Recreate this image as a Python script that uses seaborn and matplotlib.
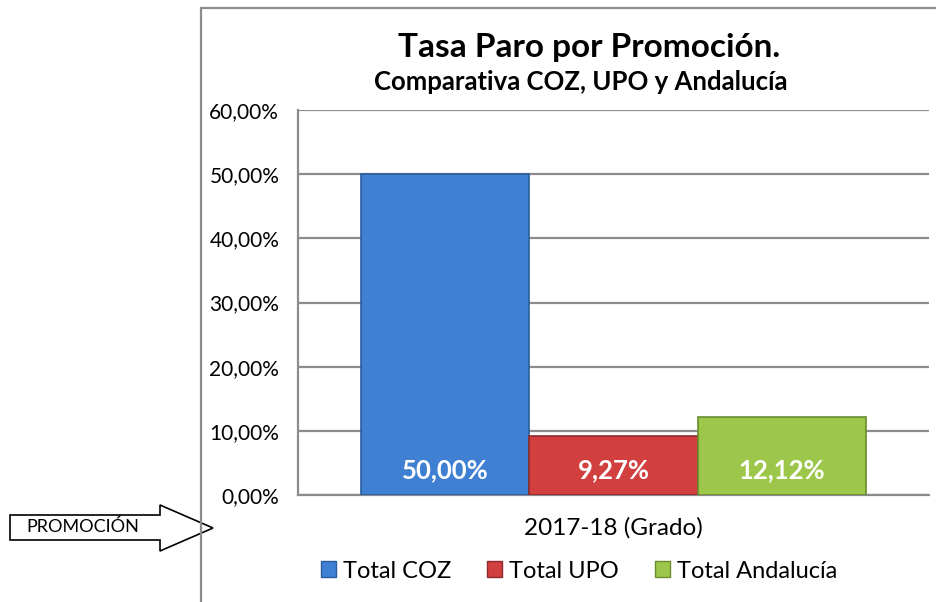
import pandas as pd
import matplotlib
matplotlib.use("Agg")
import matplotlib.pyplot as plt
import seaborn as sns
from matplotlib.lines import Line2D
from matplotlib.patches import Polygon

# Datos
promocion = ["2017-18 (Grado)"]
series = ["Total COZ", "Total UPO", "Total Andalucía"]
tasa_paro = [50.00, 9.27, 12.12]
colores = ["#3F80D2", "#D23F3F", "#9DC74A"]
bordes = ["#2B5C9C", "#8F2B2B", "#6A8C2C"]
y_ticks = [0, 10, 20, 30, 40, 50, 60]


def pct(v):
    return f"{v:.2f}%".replace(".", ",")


df = pd.DataFrame({
    "promocion": promocion * len(series),
    "serie": series,
    "tasa": tasa_paro,
})

sns.set_style("white")
plt.rcParams["font.family"] = ["Lato", "DejaVu Sans"]
plt.rcParams["text.color"] = "black"
plt.rcParams["xtick.color"] = "black"
plt.rcParams["ytick.color"] = "black"

fig = plt.figure(figsize=(9.36, 6.02), dpi=100)
ax = fig.add_axes([298 / 936, 107 / 602, 631 / 936, 385 / 602])

sns.barplot(data=df, x="promocion", y="tasa", hue="serie",
            palette=colores, saturation=1, ax=ax, width=0.8, legend=False)

for patch, borde in zip(ax.patches, bordes):
    patch.set_edgecolor(borde)
    patch.set_linewidth(1.2)
    patch.set_zorder(3)

# Etiquetas dentro de las barras
for patch, v in zip(ax.patches, tasa_paro):
    cx = patch.get_x() + patch.get_width() / 2
    ax.text(cx, 3.9, pct(v), ha="center", va="center", color="white",
            fontsize=18.5, fontweight="bold", zorder=4)

ax.set_ylim(0, 60)
ax.set_xlim(-0.5, 0.5)
ax.set_yticks(y_ticks)
ax.set_yticklabels([pct(v) for v in y_ticks], fontsize=15)
ax.tick_params(axis="y", length=0, pad=13.5)
ax.tick_params(axis="x", length=0, labelsize=17.5, pad=16)
ax.set_xlabel("")
ax.set_ylabel("")
ax.yaxis.grid(True, color="#8C8C8C", linewidth=1.6, zorder=0)
ax.set_axisbelow(True)
for lado in ["top", "right"]:
    ax.spines[lado].set_visible(False)
for lado in ["left", "bottom"]:
    ax.spines[lado].set_color("#8C8C8C")
    ax.spines[lado].set_linewidth(1.6)

# Títulos
fig.text(589 / 936, 1 - 48 / 602, "Tasa Paro por Promoción.",
         ha="center", va="center", fontsize=24, fontweight="bold")
fig.text(581 / 936, 1 - 82 / 602, "Comparativa COZ, UPO y Andalucía",
         ha="center", va="center", fontsize=18.5, fontweight="bold")

# Leyenda
handles = [plt.Rectangle((0, 0), 1, 1, facecolor=c, edgecolor=b)
           for c, b in zip(colores, bordes)]
fig.legend(handles, series, loc="center", bbox_to_anchor=(579 / 936, 1 - 571 / 602),
           ncol=3, frameon=False, fontsize=17, handlelength=0.65,
           handleheight=0.65, handletextpad=0.3, columnspacing=1.5)

# Marco del gráfico
fig.add_artist(Line2D([201 / 936, 201 / 936], [0, 1 - 8 / 602],
                      color="#8C8C8C", linewidth=1.6))
fig.add_artist(Line2D([201 / 936, 1], [1 - 8 / 602, 1 - 8 / 602],
                      color="#8C8C8C", linewidth=1.6))

# Flecha "PROMOCIÓN"
flecha = [(10, 515), (160, 515), (160, 505), (213, 528), (160, 551),
          (160, 540), (10, 540)]
fig.add_artist(Polygon([(x / 936, 1 - y / 602) for x, y in flecha],
                       closed=True, facecolor="white", edgecolor="black",
                       linewidth=1.2, transform=fig.transFigure))
fig.text(83 / 936, 1 - 527 / 602, "PROMOCIÓN", ha="center", va="center",
         fontsize=13)

fig.savefig("out.png", dpi=100)
